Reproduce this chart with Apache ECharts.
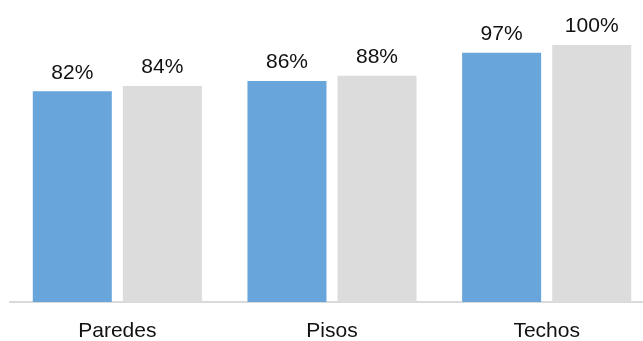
<!DOCTYPE html>
<html><head><meta charset="utf-8">
<script src="https://cdn.jsdelivr.net/npm/echarts@6/dist/echarts.min.js"></script>
<style>html,body{margin:0;padding:0;background:#fff;overflow:hidden}#c{width:643px;height:341px}</style>
</head><body><div id="c"></div>
<script>
const categories = ["Paredes", "Pisos", "Techos"];
const seriesA = [82, 86, 97];
const seriesB = [84, 88, 100];

const chart = echarts.init(document.getElementById('c'));
const lbl = {show:true, position:'top', distance:8, formatter:'{c}%', color:'#111', fontSize:21, fontFamily:'Liberation Sans, Arial, sans-serif'};
chart.setOption({
  animation:false,
  grid:{left:10, width:644, top:45, bottom:39, containLabel:false, outerBoundsMode:'none'},
  xAxis:{type:'category', data:categories,
    axisLine:{lineStyle:{color:'#d9d9d9', width:2}}, axisTick:{show:false},
    axisLabel:{color:'#111', fontSize:21, margin:19, fontFamily:'Liberation Sans, Arial, sans-serif'}},
  yAxis:{type:'value', min:0, max:100, show:false, splitLine:{show:false}},
  series:[
    {type:'bar', data:seriesA, barWidth:79, barGap:'14%', itemStyle:{color:'#67a5db'}, label:lbl},
    {type:'bar', data:seriesB, barWidth:79, barGap:'14%', itemStyle:{color:'#dcdcdc'}, label:lbl}
  ]
});
</script></body></html>
